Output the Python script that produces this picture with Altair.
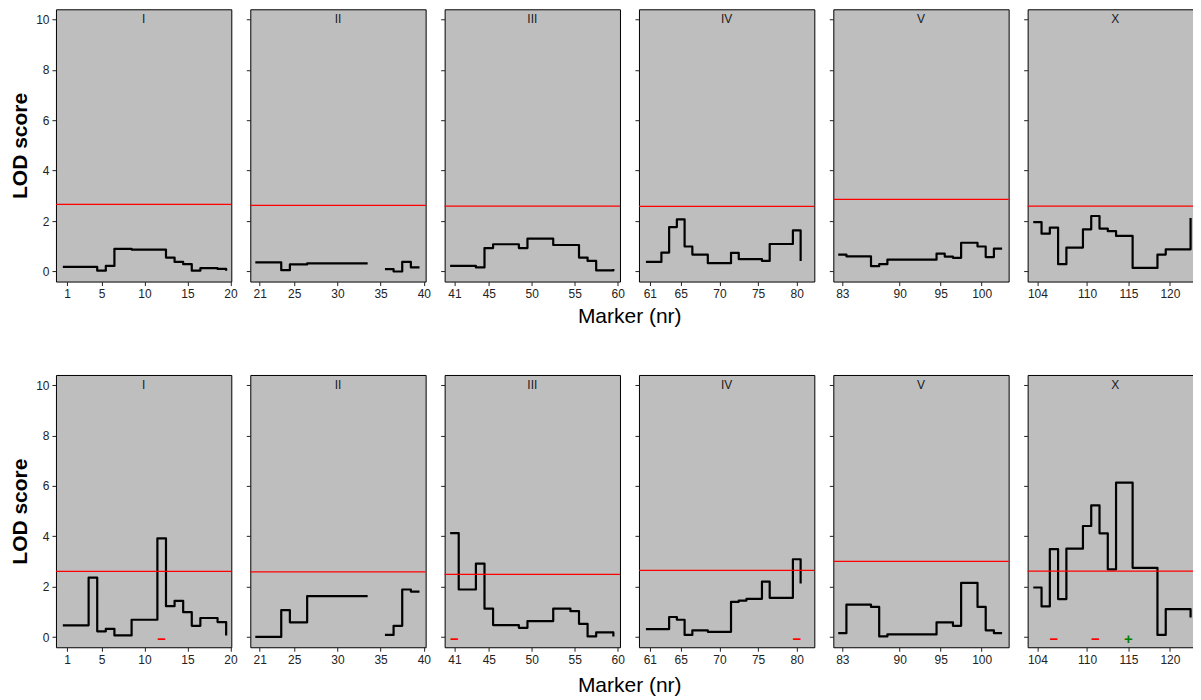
import altair as alt
import pandas as pd

panel_names = ["I", "II", "III", "IV", "V", "X"]
first_marker = [1, 21, 41, 61, 83, 104]
x_lo = [-0.3, 19.92, 39.86, 59.6, 81.9, 102.82]
x_hi = [20.1, 40.21, 60.27, 82.27, 103.3, 124.0]
x_ticks = [
    [1, 5, 10, 15, 20],
    [21, 25, 30, 35, 40],
    [41, 45, 50, 55, 60],
    [61, 65, 70, 75, 80],
    [83, 90, 95, 100],
    [104, 110, 115, 120],
]
y_ticks = [0, 2, 4, 6, 8, 10]

# LOD score per marker, top row
top_I = [0.18, 0.18, 0.18, 0.18, 0.03, 0.22, 0.90, 0.90, 0.87, 0.87, 0.87, 0.87, 0.55, 0.38, 0.29, 0.03, 0.13, 0.13, 0.10, 0.03]
top_II = [0.36, 0.36, 0.36, 0.05, 0.28, 0.28, 0.32, 0.32, 0.32, 0.32, 0.32, 0.32, 0.32, 0.32, None, 0.09, 0.00, 0.38, 0.16, 0.16]
top_III = [0.22, 0.22, 0.22, 0.16, 0.93, 1.08, 1.08, 1.08, 0.93, 1.30, 1.30, 1.30, 1.05, 1.05, 1.05, 0.55, 0.42, 0.04, 0.04, 0.10]
top_IV = [0.38, 0.38, 0.75, 1.76, 2.07, 0.99, 0.67, 0.67, 0.33, 0.33, 0.33, 0.74, 0.49, 0.49, 0.49, 0.42, 1.09, 1.09, 1.09, 1.63, 0.42]
top_V = [0.67, 0.60, 0.60, 0.60, 0.21, 0.29, 0.47, 0.47, 0.47, 0.47, 0.47, 0.47, 0.71, 0.59, 0.54, 1.14, 1.14, 0.99, 0.57, 0.91, 0.91]
top_X = [1.96, 1.50, 1.74, 0.29, 0.95, 0.95, 1.67, 2.20, 1.70, 1.60, 1.41, 1.41, 0.14, 0.14, 0.14, 0.67, 0.88, 0.88, 0.88, 2.12]

# LOD score per marker, bottom row
bot_I = [0.47, 0.47, 0.47, 2.36, 0.23, 0.33, 0.07, 0.07, 0.69, 0.69, 0.69, 3.92, 1.23, 1.44, 0.99, 0.45, 0.76, 0.76, 0.60, 0.07]
bot_II = [0.01, 0.01, 0.01, 1.07, 0.59, 0.59, 1.63, 1.63, 1.63, 1.63, 1.63, 1.63, 1.63, 1.63, None, 0.09, 0.45, 1.89, 1.81, 1.81]
bot_III = [4.13, 1.89, 1.89, 2.92, 1.13, 0.48, 0.48, 0.48, 0.37, 0.64, 0.64, 0.64, 1.13, 1.13, 1.03, 0.53, 0.03, 0.19, 0.19, 0.03]
bot_IV = [0.32, 0.32, 0.32, 0.80, 0.69, 0.09, 0.27, 0.27, 0.21, 0.21, 0.21, 1.40, 1.45, 1.52, 1.52, 2.20, 1.56, 1.56, 1.56, 3.09, 2.13]
bot_V = [0.16, 1.29, 1.29, 1.29, 1.20, 0.03, 0.11, 0.11, 0.11, 0.11, 0.11, 0.11, 0.59, 0.59, 0.45, 2.15, 2.15, 1.20, 0.27, 0.16, 0.16]
bot_X = [1.97, 1.22, 3.49, 1.51, 3.51, 3.51, 4.41, 5.23, 4.12, 2.69, 6.13, 6.13, 2.75, 2.75, 2.75, 0.09, 1.11, 1.11, 1.11, 0.78]

top_rows = [top_I, top_II, top_III, top_IV, top_V, top_X]
bot_rows = [bot_I, bot_II, bot_III, bot_IV, bot_V, bot_X]

# significance thresholds
thr_top = [2.66, 2.62, 2.59, 2.58, 2.86, 2.59]
thr_bot = [2.61, 2.59, 2.49, 2.65, 3.01, 2.62]

# effect signs shown at the bottom of the second row
sign_panel = ["I", "III", "IV", "X", "X", "X"]
sign_marker = [12, 41, 80, 106, 111, 115]
sign_label = ["\u2212", "\u2212", "\u2212", "\u2212", "\u2212", "+"]
sign_color = ["red", "red", "red", "red", "red", "green"]

W = 175.5
H = 272.5
GAP = 18.5
FONT = "Liberation Sans"
BG = "#BEBEBE"
TITLE_SIZE = 21


def make_panel(values, col, thr, row_index):
    recs = []
    seg = 0
    for i, v in enumerate(values):
        m = first_marker[col] + i
        if v is None:
            seg += 1
            continue
        recs.append({"x": m - 0.5, "lod": v, "seg": seg})
    df = pd.DataFrame(recs)

    xs = alt.Scale(domain=[x_lo[col], x_hi[col]], nice=False, zero=False)
    ys = alt.Scale(domain=[-0.4, 10.4], nice=False, zero=False)
    if col == 2:
        xax = alt.Axis(values=x_ticks[col], labelFlush=False, title="Marker (nr)",
                       titleX=W + GAP / 2, titleY=35 if row_index == 0 else 38,
                       titleAlign="center", titleBaseline="middle",
                       titleFontSize=TITLE_SIZE, titleFontWeight="normal",
                       titleColor="black")
    else:
        xax = alt.Axis(values=x_ticks[col], title=None, labelFlush=False)
    if col == 0:
        yax = alt.Axis(values=y_ticks, title="LOD score", titleFontWeight="bold",
                       titleFontSize=TITLE_SIZE, titlePadding=5, titleColor="black")
    else:
        yax = alt.Axis(values=y_ticks, title=None, labels=False)

    line = alt.Chart(df).mark_line(
        interpolate="step-after", color="black", strokeWidth=2.2, strokeJoin="round"
    ).encode(
        x=alt.X("x:Q", scale=xs, axis=xax),
        y=alt.Y("lod:Q", scale=ys, axis=yax),
        detail="seg:N",
    )
    thr_chart = alt.Chart(pd.DataFrame({"t": [thr]})).mark_rule(
        color="#FF0000", strokeWidth=1.3
    ).encode(y=alt.Y("t:Q", scale=ys))
    strip = alt.Chart(pd.DataFrame({"name": [panel_names[col]]})).mark_text(
        font=FONT, fontSize=12, color="#1A1A1A", baseline="middle"
    ).encode(text="name:N", x=alt.value(W / 2), y=alt.value(10))

    layers = [line, thr_chart, strip]
    if row_index == 1:
        srec = [
            {"x": sign_marker[k], "y": 0, "lab": sign_label[k], "col": sign_color[k]}
            for k in range(len(sign_panel))
            if sign_panel[k] == panel_names[col]
        ]
        if srec:
            sdf = pd.DataFrame(srec)
            signs = alt.Chart(sdf).mark_text(
                font=FONT, fontSize=15, fontWeight="bold", baseline="alphabetic", dy=7
            ).encode(
                x=alt.X("x:Q", scale=xs),
                y=alt.Y("y:Q", scale=ys),
                text="lab:N",
                color=alt.Color("col:N", scale=alt.Scale(domain=["red", "green"],
                                                         range=["#FF0000", "#007F00"]),
                                legend=None),
            )
            layers.append(signs)
    return alt.layer(*layers).properties(width=W, height=H)


def make_row(rows, thrs, row_index):
    panels = [make_panel(rows[c], c, thrs[c], row_index) for c in range(6)]
    return alt.hconcat(*panels, spacing=GAP, bounds="flush")


row1 = make_row(top_rows, thr_top, 0)
row2 = make_row(bot_rows, thr_bot, 1)

chart = alt.vconcat(row1, row2, spacing=47).properties(
    padding={"left": 1, "top": 0, "right": -12, "bottom": 0}
).configure_view(
    fill=BG, stroke="black", strokeWidth=1
).configure_axis(
    labelFont=FONT, labelFontSize=12, labelColor="#222222", tickColor="#222222",
    tickSize=4, labelPadding=3, domain=False, grid=False, titleFont=FONT,
)

chart.save("out.html", embed_options={"renderer": "svg", "actions": False})
